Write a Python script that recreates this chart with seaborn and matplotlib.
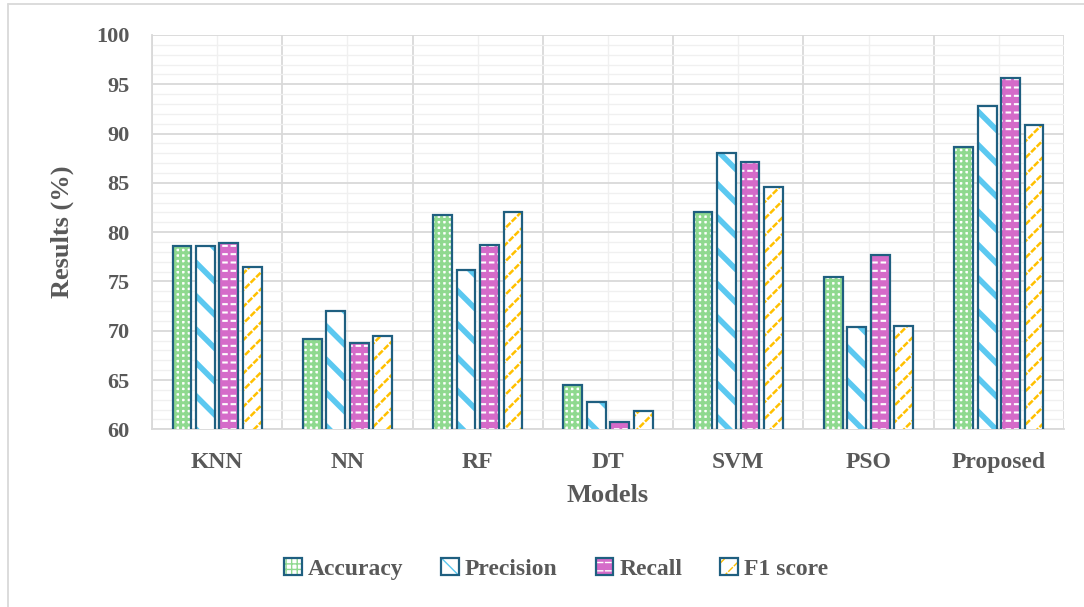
import numpy as np
import pandas as pd
import matplotlib
matplotlib.use("Agg")
import matplotlib.pyplot as plt
import seaborn as sns
from matplotlib.patches import Rectangle, Patch
from matplotlib.ticker import MultipleLocator, FixedLocator
from matplotlib.legend_handler import HandlerTuple
from matplotlib.lines import Line2D

models = ["KNN", "NN", "RF", "DT", "SVM", "PSO", "Proposed"]
metrics = ["Accuracy", "Precision", "Recall", "F1 score"]
accuracy = [78.6, 69.2, 81.7, 64.5, 82.0, 75.5, 88.6]
precision = [78.6, 72.0, 76.2, 62.8, 88.0, 70.4, 92.8]
recall = [78.9, 68.8, 78.7, 60.7, 87.1, 77.7, 95.6]
f1_score = [76.5, 69.5, 82.0, 61.9, 84.6, 70.5, 90.9]
y_ticks = [60, 65, 70, 75, 80, 85, 90, 95, 100]

df = pd.DataFrame({
    "Model": models * 4,
    "Metric": sum([[m] * len(models) for m in metrics], []),
    "Value": accuracy + precision + recall + f1_score,
})

sns.set_theme(style="white")
TXT = "#595959"
FONT = ["Liberation Serif", "DejaVu Serif"]
plt.rcParams["font.family"] = FONT
plt.rcParams["font.weight"] = "bold"

EDGE = "#1F5F80"
GREEN = "#8FD98F"
BLUE = "#5BC8F0"
MAGENTA = "#D56BC9"
YELLOW = "#FFC000"
# base layer: (face, hatch colour, hatch, hatch lw); extra overlay layers: (hatch colour, hatch, lw)
styles = {
    "Accuracy": (("white", GREEN, "+++", 2.2), []),
    "Precision": (("white", BLUE, "\\", 4.0), []),
    "Recall": ((MAGENTA, "white", "--", 1.5), [(MAGENTA, "||", 2.0)]),
    "F1 score": (("white", YELLOW, "//", 1.8), [("white", "\\\\\\", 1.2)]),
}
legend_hatch = {"Precision": ("\\\\", 3.0)}


def set_hlw(p, lw):
    if hasattr(p, "set_hatch_linewidth"):
        p.set_hatch_linewidth(lw)


fig = plt.figure(figsize=(10.84, 6.07), dpi=100)
ax = fig.add_axes([152 / 1084, 1 - 429.3 / 607, (1064 - 152) / 1084, (429.3 - 35) / 607])

sns.barplot(data=df, x="Model", y="Value", hue="Metric", order=models,
            hue_order=metrics, width=0.72, gap=0.2, ax=ax, legend=False,
            errorbar=None, zorder=3)

legend_handles = []
for cont, metric in zip(ax.containers, metrics):
    (face, hc, hatch, hlw), extras = styles[metric]
    for p in cont:
        p.set_facecolor(face)
        p.set_edgecolor(hc)
        p.set_hatch(hatch)
        p.set_linewidth(0)
        set_hlw(p, hlw)
        p.set_zorder(3)
        for k, (ec, eh, elw) in enumerate(extras):
            q = Rectangle(p.get_xy(), p.get_width(), p.get_height(), facecolor="none",
                          edgecolor=ec, hatch=eh, linewidth=0, zorder=3.1 + 0.1 * k)
            set_hlw(q, elw)
            ax.add_patch(q)
        r = Rectangle(p.get_xy(), p.get_width(), p.get_height(), facecolor="none",
                      edgecolor=EDGE, linewidth=1.6, zorder=4)
        ax.add_patch(r)
    lh, llw = legend_hatch.get(metric, (hatch, min(hlw, 2.0)))
    h = [Patch(facecolor=face, edgecolor=hc, hatch=lh, linewidth=0)]
    set_hlw(h[0], llw)
    for ec, eh, elw in extras:
        q = Patch(facecolor="none", edgecolor=ec, hatch=eh, linewidth=0)
        set_hlw(q, elw)
        h.append(q)
    h.append(Patch(facecolor="none", edgecolor=EDGE, linewidth=1.6))
    legend_handles.append(tuple(h))

ax.set_ylim(60, 100)
ax.set_xlim(-0.5, len(models) - 0.5)
ax.yaxis.set_major_locator(FixedLocator(y_ticks))
ax.yaxis.set_minor_locator(MultipleLocator(1))
ax.xaxis.set_minor_locator(FixedLocator(np.arange(-0.5, len(models), 1.0)))
ax.grid(False)
ax.grid(which="major", axis="y", color="#D9D9D9", linewidth=1.3, zorder=1)
ax.grid(which="minor", axis="y", color="#F0F0F0", linewidth=1.0, zorder=0)
ax.grid(which="minor", axis="x", color="#D9D9D9", linewidth=1.3, zorder=1)
ax.grid(which="major", axis="x", color="#F0F0F0", linewidth=1.0, zorder=0)
ax.set_axisbelow(True)
for s in ["top", "right"]:
    ax.spines[s].set_visible(False)
for s in ["left", "bottom"]:
    ax.spines[s].set_color("#D9D9D9")
    ax.spines[s].set_linewidth(1.3)

ax.tick_params(axis="both", which="both", length=0)
ax.tick_params(axis="y", pad=16, labelsize=16, labelcolor=TXT)
ax.tick_params(axis="x", pad=16, labelsize=17, labelcolor=TXT)
for lab in ax.get_xticklabels() + ax.get_yticklabels():
    lab.set_fontweight("bold")

ax.set_xlabel("Models", fontsize=19, fontweight="bold", color=TXT, labelpad=8)
ax.set_ylabel("Results (%)", fontsize=19, fontweight="bold", color=TXT, labelpad=16)

fig.legend(legend_handles, metrics, handler_map={tuple: HandlerTuple(ndivide=1)},
           loc="center", bbox_to_anchor=(0.513, 1 - 569 / 607), ncol=4, frameon=False,
           prop={"family": FONT, "weight": "bold", "size": 17},
           handlelength=0.75, handleheight=0.75, handletextpad=0.25, columnspacing=1.6,
           labelcolor=TXT)

# outer chart frame (top & left visible)
fig.add_artist(Line2D([8 / 1084, 8 / 1084], [0, 1 - 4 / 607], transform=fig.transFigure,
                      color="#D9D9D9", linewidth=1.3))
fig.add_artist(Line2D([8 / 1084, 1], [1 - 4 / 607, 1 - 4 / 607], transform=fig.transFigure,
                      color="#D9D9D9", linewidth=1.3))

fig.savefig("out.png", dpi=100)
